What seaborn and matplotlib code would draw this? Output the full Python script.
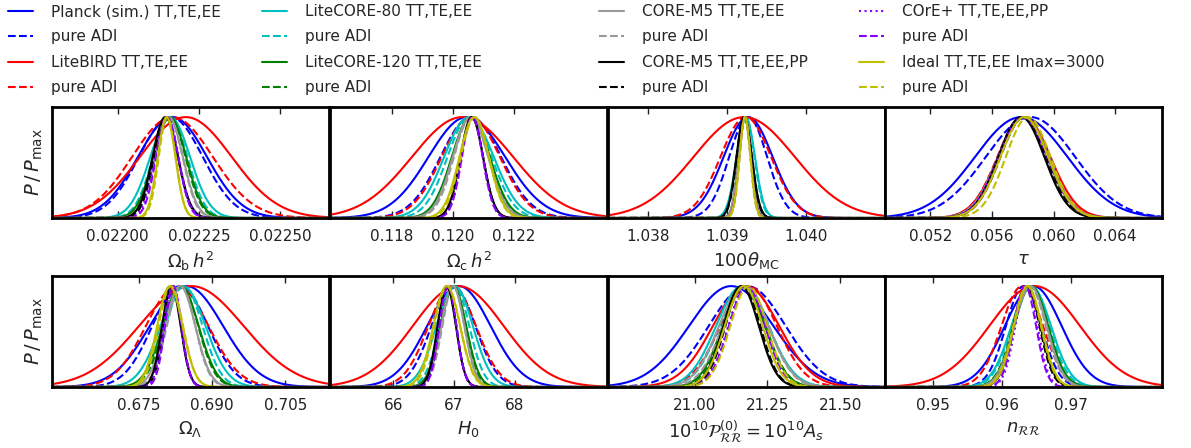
# 1D marginalised posteriors, 8 cosmological parameters, 16 runs
import numpy as np
import pandas as pd
import matplotlib
matplotlib.use('Agg')
import matplotlib.pyplot as plt
import seaborn as sns

# run labels, colours, line styles (legend order)
labels = ['Planck (sim.) TT,TE,EE', 'pure ADI',
          'LiteBIRD TT,TE,EE', 'pure ADI',
          'LiteCORE-80 TT,TE,EE', 'pure ADI',
          'LiteCORE-120 TT,TE,EE', 'pure ADI',
          'CORE-M5 TT,TE,EE', 'pure ADI',
          'CORE-M5 TT,TE,EE,PP', 'pure ADI',
          'COrE+ TT,TE,EE,PP', 'pure ADI',
          'Ideal TT,TE,EE lmax=3000', 'pure ADI']
colors = ['#0000ff', '#0000ff', '#ff0000', '#ff0000',
          '#00bfbf', '#00bfbf', '#008000', '#008000',
          '#999999', '#999999', '#000000', '#000000',
          '#8a00ff', '#8a00ff', '#bfbf00', '#bfbf00']
styles = ['-', '--', '-', '--', '-', '--', '-', '--',
          '-', '--', '-', '--', ':', '--', '-', '--']

# posterior means and widths (same order as labels)
omb_mean = [0.022168, 0.022163, 0.022209, 0.022168, 0.022161, 0.022161, 0.022160, 0.022160,
            0.022156, 0.022157, 0.022146, 0.022148, 0.022151, 0.022152, 0.022150, 0.022152]
omb_sig = [0.000106, 0.000098, 0.000141, 0.000124, 0.000061, 0.000053, 0.000050, 0.000048,
           0.000044, 0.000042, 0.000039, 0.000037, 0.000036, 0.000034, 0.000027, 0.000026]

omc_mean = [0.12046, 0.12059, 0.12032, 0.12059, 0.12053, 0.12055, 0.12059, 0.12060,
            0.12058, 0.12060, 0.12062, 0.12063, 0.12064, 0.12064, 0.12070, 0.12072]
omc_sig = [0.00125, 0.00099, 0.00165, 0.00095, 0.00081, 0.00072, 0.00062, 0.00060,
           0.00058, 0.00056, 0.00037, 0.00036, 0.00034, 0.00034, 0.00048, 0.00046]

theta_mean = [1.03927, 1.03927, 1.03922, 1.03924, 1.03924, 1.03924, 1.03923, 1.03923,
              1.03923, 1.03923, 1.03922, 1.03922, 1.03923, 1.03923, 1.03923, 1.03923]
theta_sig = [0.00031, 0.00024, 0.00064, 0.00032, 0.000116, 0.000110, 0.000080, 0.000078,
             0.000080, 0.000078, 0.000098, 0.000095, 0.000072, 0.000070, 0.000070, 0.000068]

tau_mean = [0.0579, 0.0585, 0.0581, 0.0580, 0.0580, 0.0581, 0.0580, 0.0581,
            0.0580, 0.0581, 0.0579, 0.0580, 0.0580, 0.0581, 0.0581, 0.05835]
tau_sig = [0.00300, 0.0029, 0.00170, 0.00165, 0.00160, 0.00158, 0.00158, 0.00155,
           0.00160, 0.00157, 0.00150, 0.00150, 0.00158, 0.00155, 0.00155, 0.00145]

oml_mean = [0.6847, 0.6834, 0.6857, 0.6828, 0.6840, 0.6842, 0.6835, 0.6836,
            0.6834, 0.6836, 0.6816, 0.6818, 0.6818, 0.6820, 0.6813, 0.6815]
oml_sig = [0.0075, 0.0057, 0.0107, 0.0064, 0.0046, 0.0038, 0.0037, 0.0035,
           0.0031, 0.0029, 0.0019, 0.0018, 0.0018, 0.0017, 0.0026, 0.0025]

h0_mean = [67.08, 66.99, 67.07, 66.97, 67.01, 67.01, 66.99, 66.99,
           66.98, 66.99, 66.88, 66.89, 66.90, 66.90, 66.88, 66.89]
h0_sig = [0.52, 0.36, 0.745, 0.39, 0.30, 0.24, 0.21, 0.20,
          0.19, 0.18, 0.15, 0.145, 0.14, 0.14, 0.22, 0.21]

as_mean = [21.125, 21.180, 21.176, 21.185, 21.163, 21.170, 21.168, 21.172,
           21.168, 21.175, 21.159, 21.165, 21.178, 21.180, 21.168, 21.185]
as_sig = [0.145, 0.132, 0.114, 0.097, 0.090, 0.085, 0.073, 0.072,
          0.085, 0.080, 0.061, 0.060, 0.063, 0.063, 0.065, 0.063]

ns_mean = [0.9645, 0.9631, 0.9647, 0.9629, 0.9642, 0.9641, 0.9642, 0.9640,
           0.9641, 0.9640, 0.9636, 0.9635, 0.9635, 0.9633, 0.9637, 0.9636]
ns_sig = [0.0041, 0.00256, 0.00655, 0.0030, 0.00286, 0.0027, 0.00246, 0.0024,
          0.00235, 0.0023, 0.00194, 0.0019, 0.0016, 0.0016, 0.0020, 0.0020]

xlabels = [r'$\Omega_{\rm b}\,h^2$', r'$\Omega_{\rm c}\,h^2$', r'$100\theta_{\rm MC}$', r'$\tau$',
           r'$\Omega_\Lambda$', r'$H_0$',
           r'$10^{10}\mathcal{P}^{(0)}_{\mathcal{R}\mathcal{R}} = 10^{10}A_s$',
           r'$n_{\mathcal{R}\mathcal{R}}$']
xticks = [[0.02200, 0.02225, 0.02250], [0.118, 0.120, 0.122], [1.038, 1.039, 1.040],
          [0.052, 0.056, 0.060, 0.064], [0.675, 0.690, 0.705], [66, 67, 68],
          [21.00, 21.25, 21.50], [0.95, 0.96, 0.97]]
xfmt = ['%.5f', '%.3f', '%.3f', '%.3f', '%.3f', '%d', '%.2f', '%.2f']
xlims = [(0.021798, 0.02265), (0.11599, 0.12505), (1.03749, 1.04100), (0.04902, 0.06703),
         (0.65713, 0.7140), (64.962, 69.52), (20.699, 21.654), (0.94296, 0.98311)]

means = [omb_mean, omc_mean, theta_mean, tau_mean, oml_mean, h0_mean, as_mean, ns_mean]
sigs = [omb_sig, omc_sig, theta_sig, tau_sig, oml_sig, h0_sig, as_sig, ns_sig]

sns.set_style('white')
plt.rcParams['font.family'] = ['DejaVu Sans']
plt.rcParams['mathtext.fontset'] = 'dejavusans'

fig = plt.figure(figsize=(11.91, 4.48), dpi=100)
W, H = 1191.0, 448.0
col_x = [52, 330, 607.5, 884.5]
row_y = [(107, 218), (276, 387)]
axw = 277.3

handles = []
for p in range(8):
    r, c = divmod(p, 4)
    top, bot = row_y[r]
    ax = fig.add_axes([col_x[c] / W, 1 - bot / H, axw / W, (bot - top) / H])
    lo, hi = xlims[p]
    xs = np.linspace(lo, hi, 500)
    for k in range(16):
        m, s = means[p][k], sigs[p][k]
        d = pd.DataFrame({'x': xs, 'P': np.exp(-0.5 * ((xs - m) / s) ** 2)})
        sns.lineplot(data=d, x='x', y='P', color=colors[k], linestyle=styles[k],
                     lw=1.5, estimator=None, ax=ax)
        if p == 0:
            handles.append(ax.lines[-1])
    ax.set_xlim(lo, hi)
    ax.set_ylim(0, 1.1)
    ax.set_xticks(xticks[p])
    ax.xaxis.set_major_formatter(matplotlib.ticker.FormatStrFormatter(xfmt[p]))
    ax.set_yticks([])
    ax.tick_params(axis='x', direction='in', top=True, bottom=True, length=5,
                   width=1, labelsize=11, pad=8, colors='#222222')
    ax.set_xlabel(xlabels[p], fontsize=13, labelpad=4)
    if c == 0:
        ax.set_ylabel(r'$P\,/\,P_{\rm max}$', fontsize=14, labelpad=5)
    else:
        ax.set_ylabel('')
    for sp in ax.spines.values():
        sp.set_linewidth(2)
        sp.set_color('black')

# legend: four columns of four entries each
leg_x = [2, 256, 593, 853]
for c in range(4):
    hs = handles[4 * c:4 * c + 4]
    ls = labels[4 * c:4 * c + 4]
    fig.legend(hs, ls, loc='upper left', bbox_to_anchor=(leg_x[c] / W, 1.0 + 2 / H),
               frameon=False, fontsize=11, handlelength=1.6, handletextpad=1.2,
               labelspacing=0.68, borderaxespad=0.0)

fig.savefig('out.png', dpi=100)
